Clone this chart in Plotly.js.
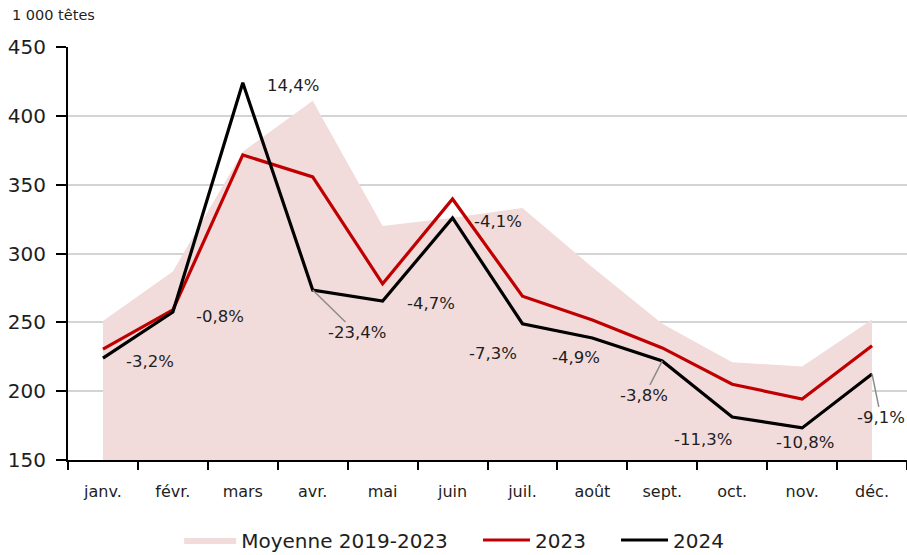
<!DOCTYPE html>
<html>
<head>
<meta charset="utf-8">
<script src="https://cdn.plot.ly/plotly-3.0.1.min.js"></script>
<style>html,body{margin:0;padding:0;background:#fff;}#chart{width:907px;height:555px;}</style>
</head>
<body>
<div id="chart"></div>
<script>
const months = ['janv.', 'févr.', 'mars', 'avr.', 'mai', 'juin', 'juil.', 'août', 'sept.', 'oct.', 'nov.', 'déc.'];
const moyenne = [251, 287, 374, 411, 320, 326, 333, 290, 249, 221, 218, 252];
const y2023 = [230.6, 259, 371.6, 355.6, 278, 339.6, 269, 251.7, 231.4, 205, 194.3, 233];
const y2024 = [224, 257.5, 424, 273.5, 265.5, 325.8, 249, 238.6, 222, 181.2, 173.3, 212.5];
const variations = ['-3,2%', '-0,8%', '14,4%', '-23,4%', '-4,7%', '-4,1%', '-7,3%', '-4,9%', '-3,8%', '-11,3%', '-10,8%', '-9,1%'];
const yTicks = [150, 200, 250, 300, 350, 400, 450];

const FONT = 'DejaVu Sans, sans-serif';
// label offsets (px) from the 2024 point, and whether a leader line is drawn
const offsets = [[47,3],[47,4],[50,3],[44,43],[48,2],[45,4],[-29,30],[-16,19],[-18,35],[-29,22],[3,15],[9,44]];
const leaders = [false,false,false,true,false,false,false,false,true,false,false,true];

const annotations = variations.map((t, i) => ({
  x: months[i], y: y2024[i], xref: 'x', yref: 'y',
  text: t, showarrow: true,
  ax: offsets[i][0], ay: offsets[i][1],
  arrowhead: 0, arrowwidth: 1.5,
  arrowcolor: leaders[i] ? '#8c8c8c' : 'rgba(0,0,0,0)',
  standoff: 0, startstandoff: 0,
  font: {family: FONT, size: 16.5, color: '#1e1e1e'}
}));
annotations.push({
  xref: 'paper', yref: 'paper', x: -0.069, y: 1.078, xanchor: 'left', yanchor: 'middle',
  text: '1 000 têtes', showarrow: false,
  font: {family: FONT, size: 14.5, color: '#1e1e1e'}
});

const data = [
  {x: months, y: moyenne, type: 'scatter', mode: 'lines', name: 'Moyenne 2019-2023', legend: 'legend',
   fill: 'tozeroy', fillcolor: 'rgb(242,219,219)', line: {width: 0, color: 'rgb(242,219,219)'}},
  {x: months, y: y2023, type: 'scatter', mode: 'lines', name: '2023', legend: 'legend2',
   line: {color: '#c00000', width: 3.2}},
  {x: months, y: y2024, type: 'scatter', mode: 'lines', name: '2024', legend: 'legend3',
   line: {color: '#000000', width: 3.2}}
];

const legendBase = {orientation: 'h', xanchor: 'left', yref: 'container', y: 0.027, yanchor: 'middle',
                    font: {family: FONT, size: 20, color: '#1e1e1e'}, bgcolor: 'rgba(0,0,0,0)'};

const layout = {
  width: 907, height: 555,
  margin: {l: 68, r: 0, t: 47, b: 95},
  paper_bgcolor: '#fff', plot_bgcolor: '#fff',
  font: {family: FONT, color: '#1e1e1e'},
  showlegend: true,
  legend: Object.assign({}, legendBase, {x: 0.1325, itemwidth: 52}),
  legend2: Object.assign({}, legendBase, {x: 0.4887, itemwidth: 47}),
  legend3: Object.assign({}, legendBase, {x: 0.6532, itemwidth: 47}),
  xaxis: {type: 'category', range: [-0.5, 11.5], tickson: 'boundaries', automargin: false,
          ticks: 'outside', ticklen: 8, tickwidth: 2, tickcolor: '#000',
          ticklabelstandoff: 16,
          showline: true, linecolor: '#000', linewidth: 2, showgrid: false,
          tickfont: {family: FONT, size: 16, color: '#1e1e1e'}, fixedrange: true},
  yaxis: {range: [150, 450], tickvals: yTicks, ticks: 'outside', ticklen: 10, tickwidth: 2,
          ticklabelstandoff: 6, automargin: false,
          tickcolor: '#000', showline: true, linecolor: '#000', linewidth: 2,
          showgrid: true, gridcolor: '#d4d4d4', gridwidth: 2, zeroline: false,
          tickfont: {family: FONT, size: 20, color: '#1e1e1e'}, fixedrange: true},
  annotations: annotations
};

Plotly.newPlot('chart', data, layout, {displayModeBar: false, staticPlot: true});
</script>
</body>
</html>
